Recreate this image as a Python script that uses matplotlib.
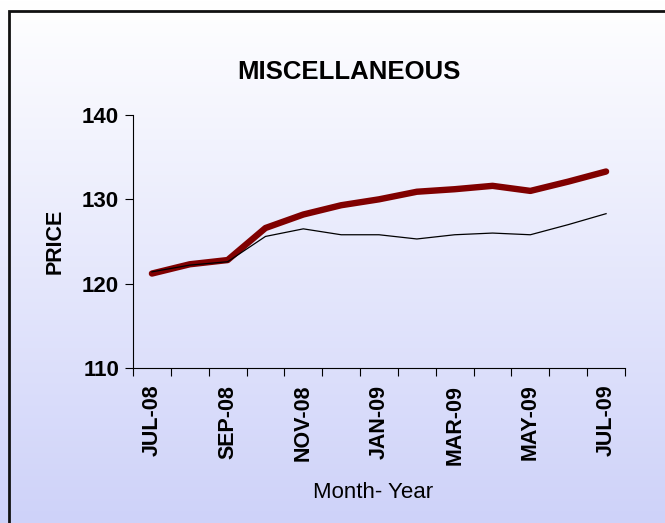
import numpy as np
import matplotlib.pyplot as plt
from matplotlib.patches import Rectangle

months = ['JUL-08', 'AUG-08', 'SEP-08', 'OCT-08', 'NOV-08', 'DEC-08', 'JAN-09',
          'FEB-09', 'MAR-09', 'APR-09', 'MAY-09', 'JUN-09', 'JUL-09']
series_red = [121.2, 122.3, 122.8, 126.6, 128.2, 129.3, 130.0,
              130.9, 131.2, 131.6, 131.0, 132.1, 133.3]
series_black = [121.4, 122.2, 122.6, 125.6, 126.5, 125.8, 125.8,
                125.3, 125.8, 126.0, 125.8, 127.0, 128.3]
yticks = [110, 120, 130, 140]

W, H = 665, 523
fig = plt.figure(figsize=(W / 100, H / 100), dpi=100)

# gradient background
bg = fig.add_axes([0, 0, 1, 1], zorder=-10)
top = np.array([1.0, 1.0, 1.0])
bottom = np.array([206, 210, 249]) / 255.0
t = np.linspace(0, 1, 256)[:, None]
grad = top * (1 - t) + bottom * t
bg.imshow(grad[:, None, :].repeat(2, axis=1), aspect='auto', extent=[0, 1, 0, 1])
bg.axis('off')
bg.add_patch(Rectangle((8.5 / W, -0.1), 1.2, 1 - 11.5 / H + 0.1, fill=False,
                       edgecolor='#111111', linewidth=2.0, transform=bg.transAxes))

ax = fig.add_axes([133 / W, 1 - 368 / H, (625 - 133) / W, (368 - 115) / H])
ax.patch.set_alpha(0)
x = np.arange(len(months))
ax.plot(x, series_black, color='black', linewidth=0.9, zorder=3)
ax.plot(x, series_red, color='#800000', linewidth=4.6, solid_capstyle='round',
        solid_joinstyle='round', zorder=2)

ax.set_xlim(-0.5, len(months) - 0.5)
ax.set_ylim(110, 140)
ax.set_yticks(yticks)
ax.set_yticklabels([str(v) for v in yticks], fontsize=16, fontweight='bold',
                   family='Liberation Sans')
ax.set_xticks(x[::2])
ax.set_xticklabels(months[::2], rotation=90, fontsize=15.5, fontweight='bold',
                   family='Liberation Sans')
ax.set_xticks(np.arange(-0.5, len(months)), minor=True)
ax.tick_params(axis='x', which='major', length=0, pad=12)
ax.tick_params(axis='x', which='minor', length=6, width=0.8, direction='out')
ax.tick_params(axis='y', length=6, width=0.8, direction='out', pad=4)
for s in ['top', 'right']:
    ax.spines[s].set_visible(False)
ax.spines['left'].set_linewidth(0.8)
ax.spines['bottom'].set_linewidth(0.8)

ax.set_ylabel('PRICE', fontsize=15.5, fontweight='bold', family='Liberation Sans',
              labelpad=12)
fig.text(373 / W, 1 - 492 / H, 'Month- Year', fontsize=16, family='Liberation Sans',
         ha='center', va='center')
fig.text(349 / W, 1 - 72 / H, 'MISCELLANEOUS', fontsize=18.5, fontweight='bold',
         family='Liberation Sans', ha='center', va='center')

fig.savefig('out.png', dpi=100)
